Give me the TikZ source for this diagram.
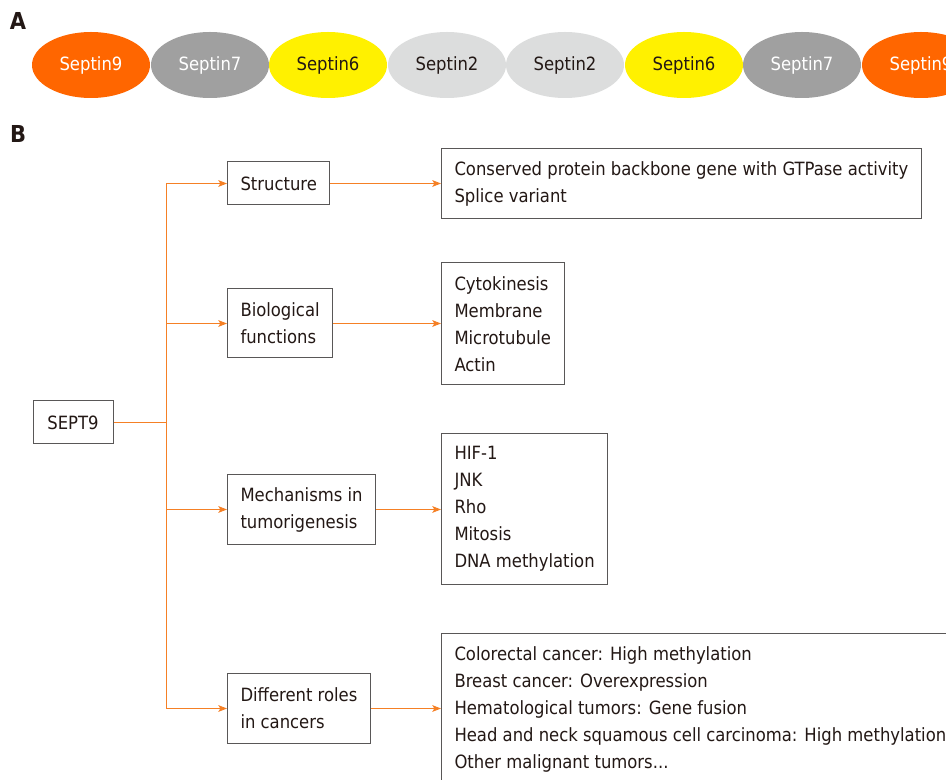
\documentclass[tikz,border=0pt]{standalone}
\usepackage{fontspec}
\setmainfont{DejaVu Sans Condensed}
\usepackage{tikz}
\usetikzlibrary{arrows.meta,positioning,shapes.geometric}

\definecolor{sOrange}{HTML}{FF6600}
\definecolor{sGray}{HTML}{A0A0A0}
\definecolor{sYellow}{HTML}{FFF100}
\definecolor{sLight}{HTML}{DCDDDD}
\definecolor{lineOrange}{HTML}{F58025}
\definecolor{boxEdge}{HTML}{595757}
\definecolor{ink}{HTML}{231815}

\begin{document}
\begin{tikzpicture}[
	x=0.75pt, y=-0.75pt,
	every node/.style={font=\fontsize{13.7}{20.25}\selectfont, text=ink},
	sept/.style={ellipse, draw=none, inner sep=0pt, minimum width=88.5pt, minimum height=49.5pt},
	block/.style={draw=boxEdge, line width=0.75pt, align=left, inner xsep=9.75pt, inner ysep=0pt},
	detail/.style={block, anchor=west},
	panel/.style={font=\fontsize{17.5}{20}\selectfont\bfseries, text=ink},
	arr/.style={-{Stealth[length=6.5pt,width=5pt,inset=1.5pt]}, draw=lineOrange, line width=0.75pt},
	link/.style={draw=lineOrange, line width=0.75pt}
	]
	\clip (0,0) rectangle (946,780);
	\fill[white] (0,0) rectangle (946,780);

	% panel A
	\node[panel] (labA) at (18,21) {A};
	\node[sept, fill=sOrange, text=white] (s1) at (91,65) {Septin9};
	\node[sept, fill=sGray, text=white] (s2) at (210,65) {Septin7};
	\node[sept, fill=sYellow] (s3) at (328,65) {Septin6};
	\node[sept, fill=sLight] (s4) at (447,65) {Septin2};
	\node[sept, fill=sLight] (s5) at (565,65) {Septin2};
	\node[sept, fill=sYellow] (s6) at (684,65) {Septin6};
	\node[sept, fill=sGray, text=white] (s7) at (802,65) {Septin7};
	\node[sept, fill=sOrange, text=white] (s8) at (921,65) {Septin9};

	% panel B
	\node[panel] (labB) at (18,134) {B};
	\node[block, minimum width=60pt, minimum height=32.25pt] (sept9) at (73,422.5) {SEPT9};

	\node[block, anchor=west, minimum height=32.25pt] (struct) at (227,183.5) {Structure};
	\node[block, anchor=west, minimum height=51.75pt] (bio) at (227,323.5) {Biological\\functions};
	\node[block, anchor=west, minimum height=52.5pt] (mech) at (227,509.5) {Mechanisms in\\tumorigenesis};
	\node[block, anchor=west, minimum height=52.5pt] (roles) at (227,708.5) {Different roles\\in cancers};

	\node[detail, minimum height=52.5pt] (structD) at (441,183.5)
		{Conserved protein backbone gene with GTPase activity\\Splice variant};
	\node[detail, minimum height=91.5pt] (bioD) at (441,324)
		{Cytokinesis\\Membrane\\Microtubule\\Actin};
	\node[detail, minimum height=112.5pt] (mechD) at (441,509)
		{HIF-1\\JNK\\Rho\\Mitosis\\DNA methylation};
	\node[detail, minimum height=114pt] (rolesD) at (441,709)
		{Colorectal cancer: High methylation\\Breast cancer: Overexpression\\Hematological tumors: Gene fusion\\Head and neck squamous cell carcinoma: High methylation\\Other malignant tumors...};

	\coordinate (jn) at (166.5,422.5);
	\draw[link] (sept9) -- (jn);
	\draw[arr] (jn) |- (struct);
	\draw[arr] (jn) |- (bio);
	\draw[arr] (jn) |- (mech);
	\draw[arr] (jn) |- (roles);

	\draw[arr] (struct) -- (struct -| structD.west);
	\draw[arr] (bio) -- (bio -| bioD.west);
	\draw[arr] (mech) -- (mech -| mechD.west);
	\draw[arr] (roles) -- (roles -| rolesD.west);
\end{tikzpicture}
\end{document}
